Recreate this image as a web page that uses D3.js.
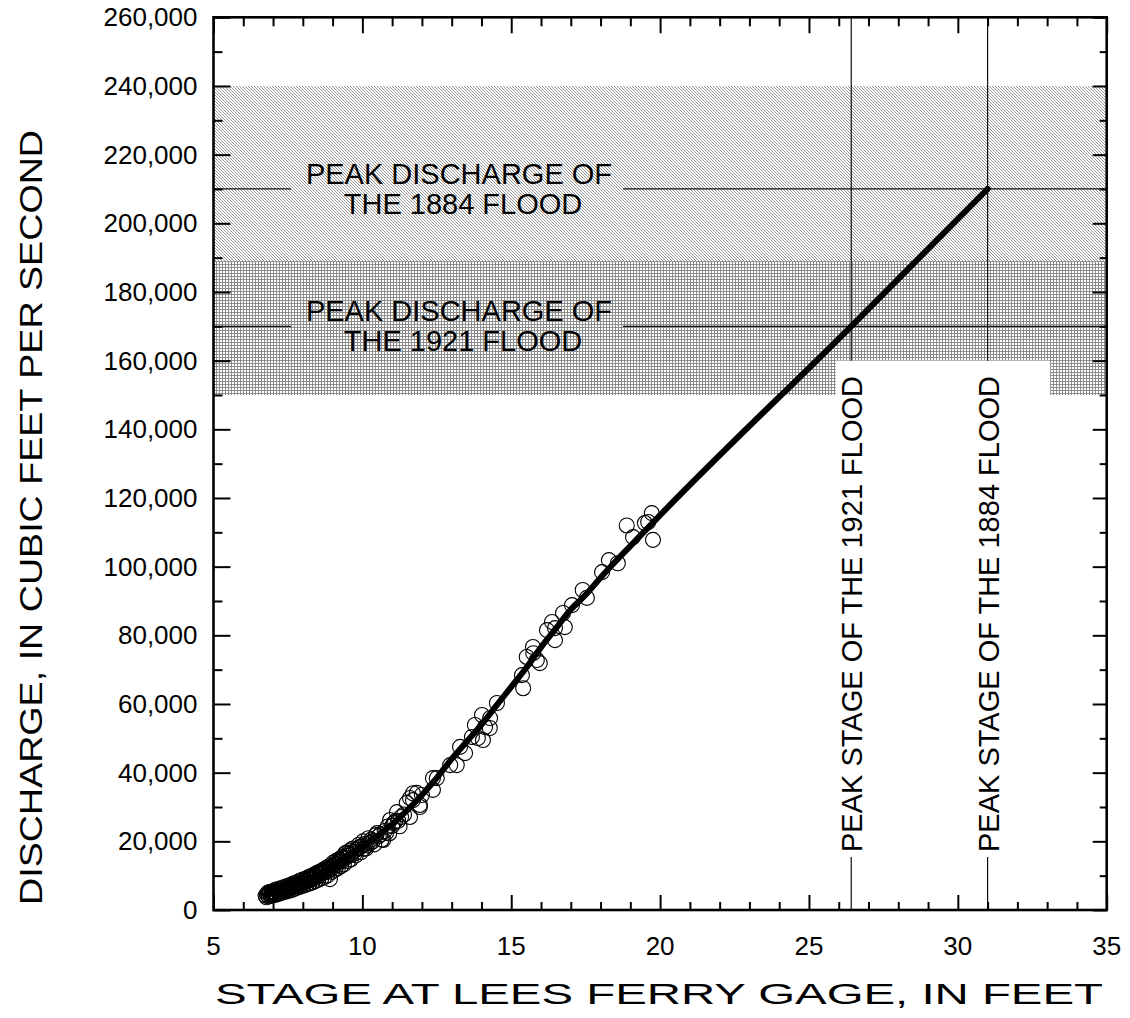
<!DOCTYPE html>
<html>
<head>
<meta charset="utf-8">
<script src="https://cdn.jsdelivr.net/npm/d3@7"></script>
<style>
  html, body { margin: 0; padding: 0; background: #fff; }
  svg { display: block; font-family: "Liberation Sans", Arial, Helvetica, sans-serif; }
</style>
</head>
<body>
<svg id="chart" width="1130" height="1018"></svg>
<script>
// Rating curve for the Colorado River at Lees Ferry: stage (ft) vs discharge (cfs)

const xDomain = [5, 35];
const yDomain = [0, 260000];
const xTickValues = [5, 10, 15, 20, 25, 30, 35];
const yTickValues = [0, 20000, 40000, 60000, 80000, 100000, 120000, 140000, 160000, 180000, 200000, 220000, 240000, 260000];

// Fitted rating curve [stage, discharge]
const ratingStage =     [6.75, 7.0, 7.5, 8.0, 8.5,   9.0,   9.5,   10.0,  10.5,  11.0,  11.5,  12.0,  12.5,  13.0,  13.5,  14.0,  14.5,  15.0,  15.5,  16.0,  16.5,  17.0,  17.5,  18.0,  18.5,   19.0,   19.5,   20.0,   26.42,  31.0];
const ratingDischarge = [4300, 5000, 6500, 8200, 10400, 12800, 15500, 18500, 21500, 25000, 29000, 33500, 38500, 44000, 49000, 54000, 59500, 65000, 70500, 76500, 82000, 87500, 91800, 96800, 101500, 106000, 110500, 115000, 170000, 210000];

// Measured discharges [stage, discharge]
const measStage = [
  6.75, 6.8, 6.85, 6.9, 6.95, 7.0, 7.0, 7.05, 7.1, 7.15, 7.2, 7.25, 7.3, 7.35, 7.4, 7.45, 7.5, 7.55, 7.6, 7.65,
  7.7, 7.75, 7.8, 7.85, 7.9, 7.95, 8.0, 8.05, 8.1, 8.15, 8.2, 8.25, 8.3, 8.35, 8.4, 8.45, 8.5, 8.55, 8.6, 8.65,
  8.7, 8.75, 8.8, 8.85, 8.9, 8.91, 8.95, 9.0, 9.05, 9.1, 9.15, 9.2, 9.25, 9.3, 9.35, 9.42, 9.45, 9.5, 9.55, 9.6,
  9.7, 9.75, 9.8, 9.85, 9.92, 10.0, 10.05, 10.1, 10.15, 10.26, 10.3, 10.35, 10.49, 10.55, 10.6, 10.7, 10.75, 10.8, 10.93, 11.0,
  11.05, 11.16, 11.2, 11.3, 11.49, 11.6, 11.6, 11.7, 11.7, 11.83, 11.93, 11.93, 12.0, 12.37, 12.37, 12.5, 12.95, 13.17, 13.28, 13.45,
  13.68, 13.78, 13.88, 14.05, 14.02, 14.12, 14.28, 14.29, 14.52, 15.36, 15.4, 15.52, 15.73, 15.74, 15.86, 15.96, 16.2, 16.37, 16.47, 16.47,
  16.74, 16.8, 17.04, 17.4, 17.54, 18.05, 18.28, 18.58, 18.88, 19.09, 19.49, 19.6, 19.72, 19.76,
  6.78, 6.82, 6.88, 6.92, 6.98, 7.02, 7.08, 7.12, 7.18, 7.22, 7.28, 7.32, 7.38, 7.42, 7.48, 7.52, 7.58, 7.62, 7.68, 7.72,
  7.78, 7.82, 7.88, 7.92, 7.98, 8.02, 8.08, 8.12, 8.18, 8.22, 8.28, 8.32, 8.38, 8.42, 8.48, 8.52, 8.58, 8.62, 8.68, 8.72,
  8.78, 8.82, 8.88, 8.98, 9.02, 9.08, 9.12, 9.18, 9.22, 9.28, 9.32, 9.38, 9.48, 9.52, 9.58, 9.62, 9.68, 9.78, 9.88, 9.95,
  10.02, 10.12, 10.2, 10.4, 10.45, 10.65, 10.85, 10.9, 11.1, 11.25, 11.4
];
const measDischarge = [
  4200, 4500, 4000, 4800, 4300, 5000, 4600, 5300, 4900, 5500, 5200, 5800, 5400, 6000, 5700, 6300, 6000, 6600, 6400, 7000,
  6700, 7200, 7500, 7100, 7800, 7600, 8300, 8000, 8600, 8400, 9000, 8800, 9400, 9200, 9800, 9600, 10500, 10100, 10900, 10600,
  11300, 11000, 11800, 11500, 12300, 9000, 12000, 12800, 13200, 13500, 13000, 14000, 14500, 14200, 15000, 16500, 15300, 15800, 16400, 16000,
  17000, 16500, 17600, 18000, 18300, 18800, 17800, 19300, 18800, 19500, 20500, 20000, 22400, 21500, 22000, 20400, 23000, 22500, 26200, 24500,
  25300, 28500, 26000, 27100, 31200, 27100, 32600, 34000, 32000, 34100, 30600, 30000, 33500, 35000, 38400, 38400, 42200, 42200, 47500, 45700,
  50400, 53900, 50100, 49500, 56800, 53300, 53000, 55900, 60300, 68400, 64600, 73700, 76600, 74800, 72800, 71900, 81500, 83900, 82100, 78600,
  86500, 82400, 88800, 93200, 90900, 98400, 101900, 101000, 112000, 108600, 112700, 113000, 115600, 107800,
  3700, 5000, 5200, 4100, 5400, 4300, 5900, 4500, 6100, 4800, 6400, 5100, 6700, 5300, 7000, 5600, 7300, 5800, 7700, 6200,
  8000, 6500, 8400, 6800, 8800, 7100, 9100, 7400, 9500, 7700, 9900, 8000, 10300, 8400, 10800, 8800, 11200, 9200, 11700, 9600,
  12200, 10000, 12700, 11100, 13800, 11700, 14300, 12200, 14800, 12800, 15400, 13300, 16700, 14300, 17300, 14800, 17900, 15900, 19000, 16800,
  20000, 17900, 20900, 19100, 21800, 20500, 24300, 22300, 25800, 24400, 27800
];

// Shaded discharge bands and flood peaks
const band1884 = [189000, 240000];
const band1921 = [150000, 189000];
const peakDischarge = { f1884: 210000, f1921: 170000 };
const peakStage = { f1921: 26.42, f1884: 31.0 };
const labelMask = { stage: [25.9, 33.1], discharge: [150000, 160000] };

const dischargeLabels = [
  { q: peakDischarge.f1884, lines: ["PEAK DISCHARGE OF", "THE 1884 FLOOD"] },
  { q: peakDischarge.f1921, lines: ["PEAK DISCHARGE OF", "THE 1921 FLOOD"] }
];
const stageLabels = [
  { s: peakStage.f1921, text: "PEAK STAGE OF THE 1921 FLOOD" },
  { s: peakStage.f1884, text: "PEAK STAGE OF THE 1884 FLOOD" }
];
const xTitle = "STAGE AT LEES FERRY GAGE, IN FEET";
const yTitle = "DISCHARGE, IN CUBIC FEET PER SECOND";

const svg = d3.select("#chart");
const m = { left: 213.5, top: 17.3, right: 1130 - 1106.7, bottom: 1018 - 910 };
const W = 1130, H = 1018;
const x = d3.scaleLinear().domain(xDomain).range([m.left, W - m.right]);
const y = d3.scaleLinear().domain(yDomain).range([H - m.bottom, m.top]);

// Fill patterns
const defs = svg.append("defs");
const hatch = defs.append("pattern").attr("id", "hatch").attr("patternUnits", "userSpaceOnUse")
  .attr("width", 3).attr("height", 3);
hatch.append("rect").attr("width", 3).attr("height", 3).attr("fill", "#fff");
hatch.append("path").attr("d", "M0,0L3,3M-1,2L1,4M2,-1L4,1")
  .attr("stroke", "#8a8a8a").attr("stroke-width", 0.9).attr("shape-rendering", "crispEdges");
const grid = defs.append("pattern").attr("id", "grid").attr("patternUnits", "userSpaceOnUse")
  .attr("width", 3).attr("height", 3);
grid.append("rect").attr("width", 3).attr("height", 3).attr("fill", "#fff");
grid.append("rect").attr("x", 0).attr("y", 0).attr("width", 1).attr("height", 3).attr("fill", "#8c8c8c");
grid.append("rect").attr("x", 0).attr("y", 0).attr("width", 3).attr("height", 1).attr("fill", "#8c8c8c");

// Bands
svg.append("rect")
  .attr("x", x(xDomain[0])).attr("width", x(xDomain[1]) - x(xDomain[0]))
  .attr("y", y(band1884[1])).attr("height", y(band1884[0]) - y(band1884[1]))
  .attr("fill", "url(#hatch)");
svg.append("rect")
  .attr("x", x(xDomain[0])).attr("width", x(xDomain[1]) - x(xDomain[0]))
  .attr("y", y(band1921[1])).attr("height", y(band1921[0]) - y(band1921[1]))
  .attr("fill", "url(#grid)");
// Cleared area behind the stage labels
svg.append("rect")
  .attr("x", x(labelMask.stage[0])).attr("width", x(labelMask.stage[1]) - x(labelMask.stage[0]))
  .attr("y", y(labelMask.discharge[1])).attr("height", y(labelMask.discharge[0]) - y(labelMask.discharge[1]))
  .attr("fill", "#fff");

const labelFont = 29;

// Horizontal peak-discharge lines, broken where the label sits
const gapL = 291, gapR = 623, labelCx = 459;
dischargeLabels.forEach(d => {
  const yy = y(d.q);
  svg.append("line").attr("x1", x(xDomain[0])).attr("x2", gapL).attr("y1", yy).attr("y2", yy)
    .attr("stroke", "#111").attr("stroke-width", 1.2);
  svg.append("line").attr("x1", gapR).attr("x2", x(xDomain[1])).attr("y1", yy).attr("y2", yy)
    .attr("stroke", "#111").attr("stroke-width", 1.2);
  const t = svg.append("text").attr("text-anchor", "middle").attr("font-size", labelFont).attr("fill", "#000");
  t.append("tspan").attr("x", labelCx).attr("y", yy - 5).text(d.lines[0]);
  t.append("tspan").attr("x", labelCx + 4).attr("y", yy + 25).text(d.lines[1]);
});

// Vertical peak-stage lines, broken where the label sits
const vTop = y(labelMask.discharge[1]), textBottom = 852;
stageLabels.forEach(d => {
  const xx = x(d.s);
  svg.append("line").attr("x1", xx).attr("x2", xx).attr("y1", y(yDomain[1])).attr("y2", vTop)
    .attr("stroke", "#111").attr("stroke-width", 1.2);
  svg.append("line").attr("x1", xx).attr("x2", xx).attr("y1", textBottom + 5).attr("y2", y(0))
    .attr("stroke", "#111").attr("stroke-width", 1.2);
  svg.append("text")
    .attr("transform", `translate(${xx + 11},${textBottom}) rotate(-90)`)
    .attr("font-size", labelFont).attr("fill", "#000")
    .text(d.text);
});

// Measurements
svg.append("g").selectAll("circle")
  .data(measStage.map((s, i) => [s, measDischarge[i]]))
  .join("circle")
  .attr("cx", d => x(d[0])).attr("cy", d => y(d[1])).attr("r", 7.5)
  .attr("fill", "none").attr("stroke", "#000").attr("stroke-width", 1.1);

// Rating curve
svg.append("path")
  .datum(ratingStage.map((s, i) => [s, ratingDischarge[i]]))
  .attr("d", d3.line().x(d => x(d[0])).y(d => y(d[1])).curve(d3.curveMonotoneX))
  .attr("fill", "none").attr("stroke", "#000").attr("stroke-width", 6).attr("stroke-linecap", "round");

// Axes with inward ticks on all four sides
function drawAxis(axis, tx, ty) {
  const g = svg.append("g").attr("transform", `translate(${tx},${ty})`).call(axis);
  g.select(".domain").remove();
  g.selectAll("line").attr("stroke", "#000").attr("stroke-width", 2);
  return g;
}
const xMinor = d3.range(5, 36, 1).filter(v => v % 5 !== 0);
const yMinor = d3.range(0, 260001, 10000).filter(v => v % 20000 !== 0);
const yB = y(0), yT = y(yDomain[1]), xL = x(xDomain[0]), xR = x(xDomain[1]);

drawAxis(d3.axisTop(x).tickValues(xTickValues).tickSize(15).tickFormat(""), 0, yB);
drawAxis(d3.axisTop(x).tickValues(xMinor).tickSize(8).tickFormat(""), 0, yB);
drawAxis(d3.axisBottom(x).tickValues(xTickValues).tickSize(16).tickFormat(""), 0, yT);
drawAxis(d3.axisBottom(x).tickValues(xMinor).tickSize(9).tickFormat(""), 0, yT);
drawAxis(d3.axisRight(y).tickValues(yTickValues).tickSize(17).tickFormat(""), xL, 0);
drawAxis(d3.axisRight(y).tickValues(yMinor).tickSize(9).tickFormat(""), xL, 0);
drawAxis(d3.axisLeft(y).tickValues(yTickValues).tickSize(14).tickFormat(""), xR, 0);
drawAxis(d3.axisLeft(y).tickValues(yMinor).tickSize(7).tickFormat(""), xR, 0);

// Frame
svg.append("rect").attr("x", xL).attr("y", yT).attr("width", xR - xL).attr("height", yB - yT)
  .attr("fill", "none").attr("stroke", "#000").attr("stroke-width", 2.6);

// Tick labels
const fmt = d3.format(",");
svg.append("g").selectAll("text").data(yTickValues).join("text")
  .attr("x", xL - 16).attr("y", d => y(d)).attr("dy", "0.35em")
  .attr("text-anchor", "end").attr("font-size", 26).text(d => fmt(d));
svg.append("g").selectAll("text").data(xTickValues).join("text")
  .attr("x", d => x(d)).attr("y", yB + 45)
  .attr("text-anchor", "middle").attr("font-size", 26).text(d => d);

// Axis titles, set in a stretched face
svg.append("text").attr("x", 215).attr("y", 1004)
  .attr("font-size", 30).attr("textLength", 888).attr("lengthAdjust", "spacingAndGlyphs")
  .text(xTitle);
svg.append("text").attr("transform", `translate(42,905) rotate(-90)`)
  .attr("font-size", 31).attr("textLength", 775).attr("lengthAdjust", "spacingAndGlyphs")
  .text(yTitle);
</script>
</body>
</html>
